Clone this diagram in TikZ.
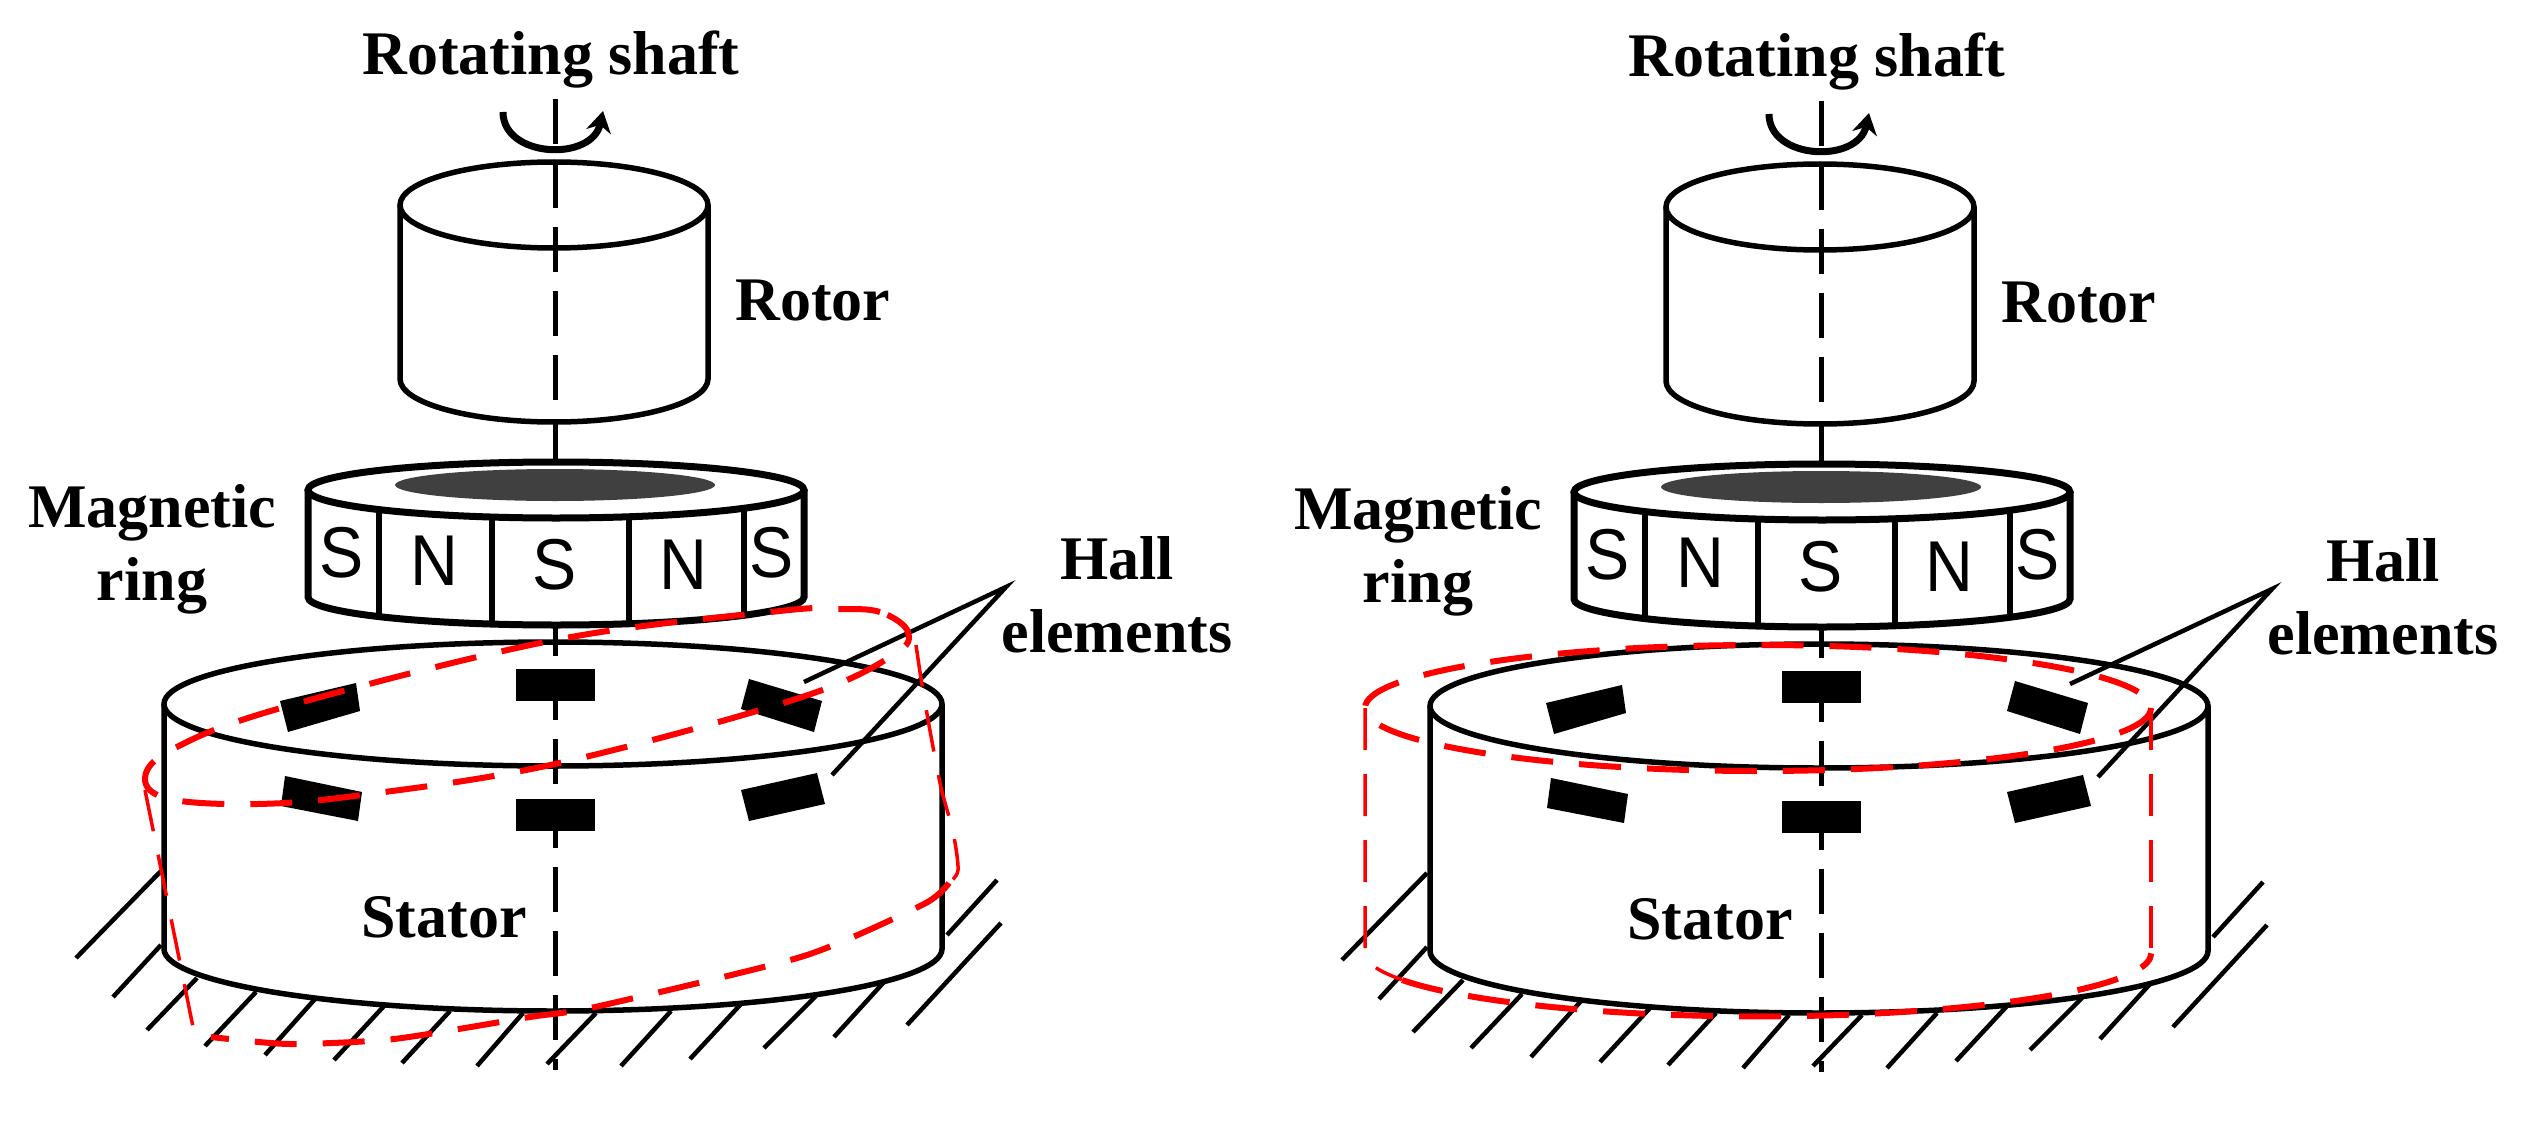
\documentclass[tikz,border=0pt]{standalone}
\usepackage{fontspec}
\setmainfont{Liberation Serif}
\setsansfont{Liberation Sans}
\usepackage{xcolor}
\usetikzlibrary{arrows.meta}
\definecolor{tiltred}{HTML}{FF0000}
\definecolor{magdark}{HTML}{404040}

\begin{document}
\begin{tikzpicture}[x=1pt, y=-1pt,
      body/.style={draw=black, line width=5.5pt},
      ringbody/.style={draw=black, fill=white, line width=7pt},
      hatchline/.style={black, line width=4.5pt},
      axisline/.style={black, line width=5pt, dash pattern=on 45pt off 19pt},
      hallchip/.style={fill=black, draw=none},
      halltag/.style={black, line width=4.5pt},
      lbl/.style={font=\fontsize{62}{73}\selectfont\bfseries, anchor=base, inner sep=0pt, align=center},
      polemark/.style={font=\sffamily\fontsize{72}{72}\selectfont, inner sep=0pt},
      tiltedge/.style={tiltred, line width=6pt, dash pattern=on 42pt off 26pt},
      tiltside/.style={tiltred, line width=3.5pt, dash pattern=on 42pt off 24pt}
    ]
      \useasboundingbox (0,0) rectangle (2525,1121);
      \foreach \ox/\oy/\n in {0/0/a, 1266/2/b}{
      \begin{scope}[shift={(\ox,\oy)}]
        % ground
        \foreach \xa/\ya/\xb/\yb in {161/871/76/958, 161/945/113/997, 197/978/147/1030,
            256/992/205/1046, 315/999/265/1055, 384/1006/334/1060, 450/1011/402/1063,
            523/1013/477/1066, 596/1013/547/1064, 671/1011/621/1066, 741/1004/690/1059,
            816/996/764/1048, 884/982/834/1037, 1001/923/907/1025, 997/880/947/935}
          \draw[hatchline] (\xa,\ya) -- (\xb,\yb);
        % shaft
        \draw[axisline] (555,99) -- (555,1070);
        \draw[black, line width=7pt, -{Stealth[length=21pt, width=25pt]}] (503,112) .. controls (503,158) and (592,162) .. (603,111);
        % rotor
        \draw[body] (554,205) ellipse [x radius=154, y radius=43];
        \draw[body] (400,205) -- (400,379) arc [start angle=180, end angle=0, x radius=154, y radius=43] -- (708,205);
        % magnetic ring
        \draw[ringbody] (308,490) -- (308,597) arc [start angle=180, end angle=0, x radius=248, y radius=28] -- (804,490);
        \draw[ringbody] (556,490) ellipse [x radius=248, y radius=28];
        \fill[magdark] (555,485) ellipse [x radius=160, y radius=16];
        \foreach \xa/\ya/\yb in {379/511/617, 492/518/624, 629/518/624, 744/509/615}
          \draw[black, line width=5.5pt] (\xa,\ya) -- (\xa,\yb);
        \foreach \xa/\ya/\t [count=\i] in {342/553/S, 434/561/N, 555/565/S, 683/565/N, 772/553/S}
          \node[polemark] (pole\n\i) at (\xa,\ya) {\scalebox{.92}[1]{\t}};
        % stator
        \draw[body] (553,704) ellipse [x radius=389, y radius=62];
        \draw[body] (164,704) -- (164,949) arc [start angle=180, end angle=0, x radius=389, y radius=62] -- (942,704);
        % hall elements
        \fill[hallchip] (516,669) rectangle (595,701);
        \fill[hallchip] (516,799) rectangle (595,831);
        \fill[hallchip] (280,701) -- (356,683) -- (360,711) -- (288,732) -- cycle;
        \fill[hallchip] (749,679) -- (822,701) -- (814,732) -- (741,709) -- cycle;
        \fill[hallchip] (285,776) -- (362,792) -- (358,821) -- (281,806) -- cycle;
        \fill[hallchip] (817,773) -- (825,804) -- (749,821) -- (741,790) -- cycle;
        \coordinate (apex\n) at (1006,587);
        \coordinate (upper\n) at (804,682);
        \coordinate (lower\n) at (832,775);
        \draw[halltag] (upper\n) -- (apex\n) -- (lower\n);
        % labels
        \node[lbl] (shaft\n) at (551,75) {Rotating shaft};
        \node[lbl] (rotor\n) at (813,320) {Rotor};
        \node[lbl] (mag\n) at (152,600) {Magnetic\\ring};
        \node[lbl] (hall\n) at (1117,652) {Hall\\elements};
        \node[lbl] (stator\n) at (444,937) {Stator};
      \end{scope}
      }
      % tilted rotor position
      \draw[tiltedge] plot [smooth cycle, tension=0.6] coordinates {(908,632) (880,612) (836,609) (780,611) (555,640) (281,708)
          (173,749) (145,778) (169,799) (257,804) (362,795) (555,764) (796,699) (892,656)};
      \draw[tiltside] plot [smooth, tension=0.5] coordinates {(916,645) (924,697) (940,783) (953,832) (958,870) (949,883)};
      \draw[tiltside] (145,790) -- (193,1027);
      \draw[tiltedge] plot [smooth, tension=0.4] coordinates {(949,883) (924,904) (804,956) (595,1007) (530,1017) (394,1039) (289,1044) (211,1037)};
      % aligned position
      \draw[tiltedge] (1758,708) ellipse [x radius=393, y radius=63];
      \draw[tiltside] (1365,708) -- (1365,953) arc [start angle=180, end angle=155, x radius=393, y radius=63];
      \draw[tiltside] (2151,708) -- (2151,953);
      \draw[tiltedge] (1402,980) arc [start angle=155, end angle=0, x radius=393, y radius=63];
    \end{tikzpicture}
\end{document}
